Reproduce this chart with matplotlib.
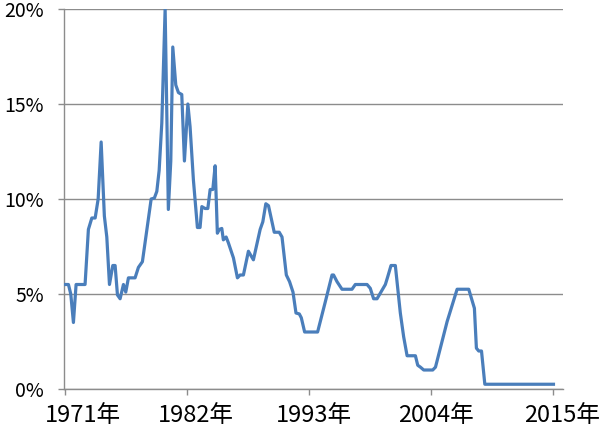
import matplotlib
matplotlib.use("Agg")
import matplotlib.pyplot as plt
import matplotlib.transforms as mtransforms

plt.rcParams['font.family'] = ['Noto Sans CJK JP', 'DejaVu Sans']

# policy rate (%)
years = [1971.00, 1971.30, 1971.51, 1971.75, 1971.99, 1972.80, 1973.10, 1973.41, 1973.71, 1973.98,
         1974.25, 1974.54, 1974.76, 1975.00, 1975.30, 1975.51, 1975.72, 1975.96, 1976.26, 1976.47,
         1976.71, 1977.31, 1977.61, 1977.97, 1978.21, 1978.76, 1979.05, 1979.27, 1979.48, 1979.72,
         1980.02, 1980.31, 1980.53, 1980.71, 1980.98, 1981.22, 1981.52, 1981.76, 1982.07, 1982.27,
         1982.57, 1982.93, 1983.17, 1983.33, 1983.62, 1983.87, 1984.08, 1984.32, 1984.53, 1984.73,
         1984.91, 1985.13, 1985.27, 1985.52, 1985.72, 1986.18, 1986.54, 1986.78, 1987.08, 1987.53,
         1987.98, 1988.59, 1988.83, 1989.10, 1989.34, 1989.86, 1990.31, 1990.56, 1990.95, 1991.24,
         1991.55, 1991.82, 1992.12, 1992.30, 1992.60, 1993.77, 1994.47, 1995.07, 1995.21, 1995.52,
         1995.97, 1996.87, 1997.17, 1998.23, 1998.52, 1998.82, 1999.13, 1999.43, 1999.88, 2000.09,
         2000.39, 2000.78, 2001.23, 2001.53, 2001.84, 2002.59, 2002.80, 2003.04, 2003.34, 2004.15,
         2004.40, 2005.45, 2006.35, 2007.40, 2007.91, 2008.09, 2008.30, 2008.55, 2008.85, 2015.04]
rate = [5.5, 5.5, 5.0, 3.5, 5.5, 5.5, 8.4, 9.0, 9.0, 10.0,
        13.0, 9.1, 8.0, 5.5, 6.5, 6.5, 4.95, 4.75, 5.5, 5.1,
        5.85, 5.85, 6.4, 6.7, 7.7, 10.0, 10.05, 10.4, 11.5, 14.0,
        20.0, 9.45, 12.0, 18.0, 16.0, 15.6, 15.5, 12.0, 15.0, 13.8,
        11.0, 8.5, 8.5, 9.6, 9.5, 9.5, 10.5, 10.5, 11.75, 8.2,
        8.4, 8.45, 7.85, 8.0, 7.7, 6.9, 5.85, 6.0, 6.0, 7.25,
        6.8, 8.4, 8.8, 9.75, 9.65, 8.25, 8.25, 8.0, 6.0, 5.65,
        5.1, 4.0, 3.95, 3.75, 3.0, 3.0, 4.6, 6.0, 6.0, 5.65,
        5.25, 5.25, 5.5, 5.5, 5.3, 4.75, 4.75, 5.05, 5.5, 5.9,
        6.5, 6.5, 4.0, 2.75, 1.75, 1.75, 1.25, 1.15, 1.0, 1.0,
        1.15, 3.55, 5.25, 5.25, 4.25, 2.15, 2.0, 2.0, 0.25, 0.25]

xticks = [1971, 1982, 1993, 2004, 2015]
xlabels = ['1971年', '1982年', '1993年', '2004年', '2015年']
yticks = [0, 5, 10, 15, 20]
ylabels = ['0%', '5%', '10%', '15%', '20%']

fig = plt.figure(figsize=(6, 4.34), dpi=100)
ax = fig.add_axes([64 / 600, 1 - 389 / 434, (563 - 64) / 600, (389 - 9) / 434])

ax.plot(years, rate, color='#4a7ebb', lw=2.3, solid_joinstyle='round', zorder=3)

ax.set_xlim(1970.9, 2015.9)
ax.set_ylim(0, 20)
ax.set_xticks(xticks)
ax.set_xticklabels(xlabels, fontsize=17)
ax.set_yticks(yticks)
ax.set_yticklabels(ylabels, fontsize=14)

ax.grid(axis='y', color='#8c8c8c', lw=1.0)
ax.set_axisbelow(True)
for s in ['top', 'right']:
    ax.spines[s].set_visible(False)
for s in ['left', 'bottom']:
    ax.spines[s].set_color('#8c8c8c')
    ax.spines[s].set_linewidth(1.0)
ax.tick_params(axis='both', direction='out', length=4.5, color='#8c8c8c', width=1.0)
ax.tick_params(axis='x', pad=6)
ax.tick_params(axis='y', pad=10)

# labels sit a little right of their ticks, as in the source
offsets = [18, 9, 5, 5, 9]
for lab, dx in zip(ax.get_xticklabels(), offsets):
    lab.set_transform(lab.get_transform() + mtransforms.ScaledTranslation(dx / 100, 0, fig.dpi_scale_trans))

fig.savefig('out.png', dpi=100)
